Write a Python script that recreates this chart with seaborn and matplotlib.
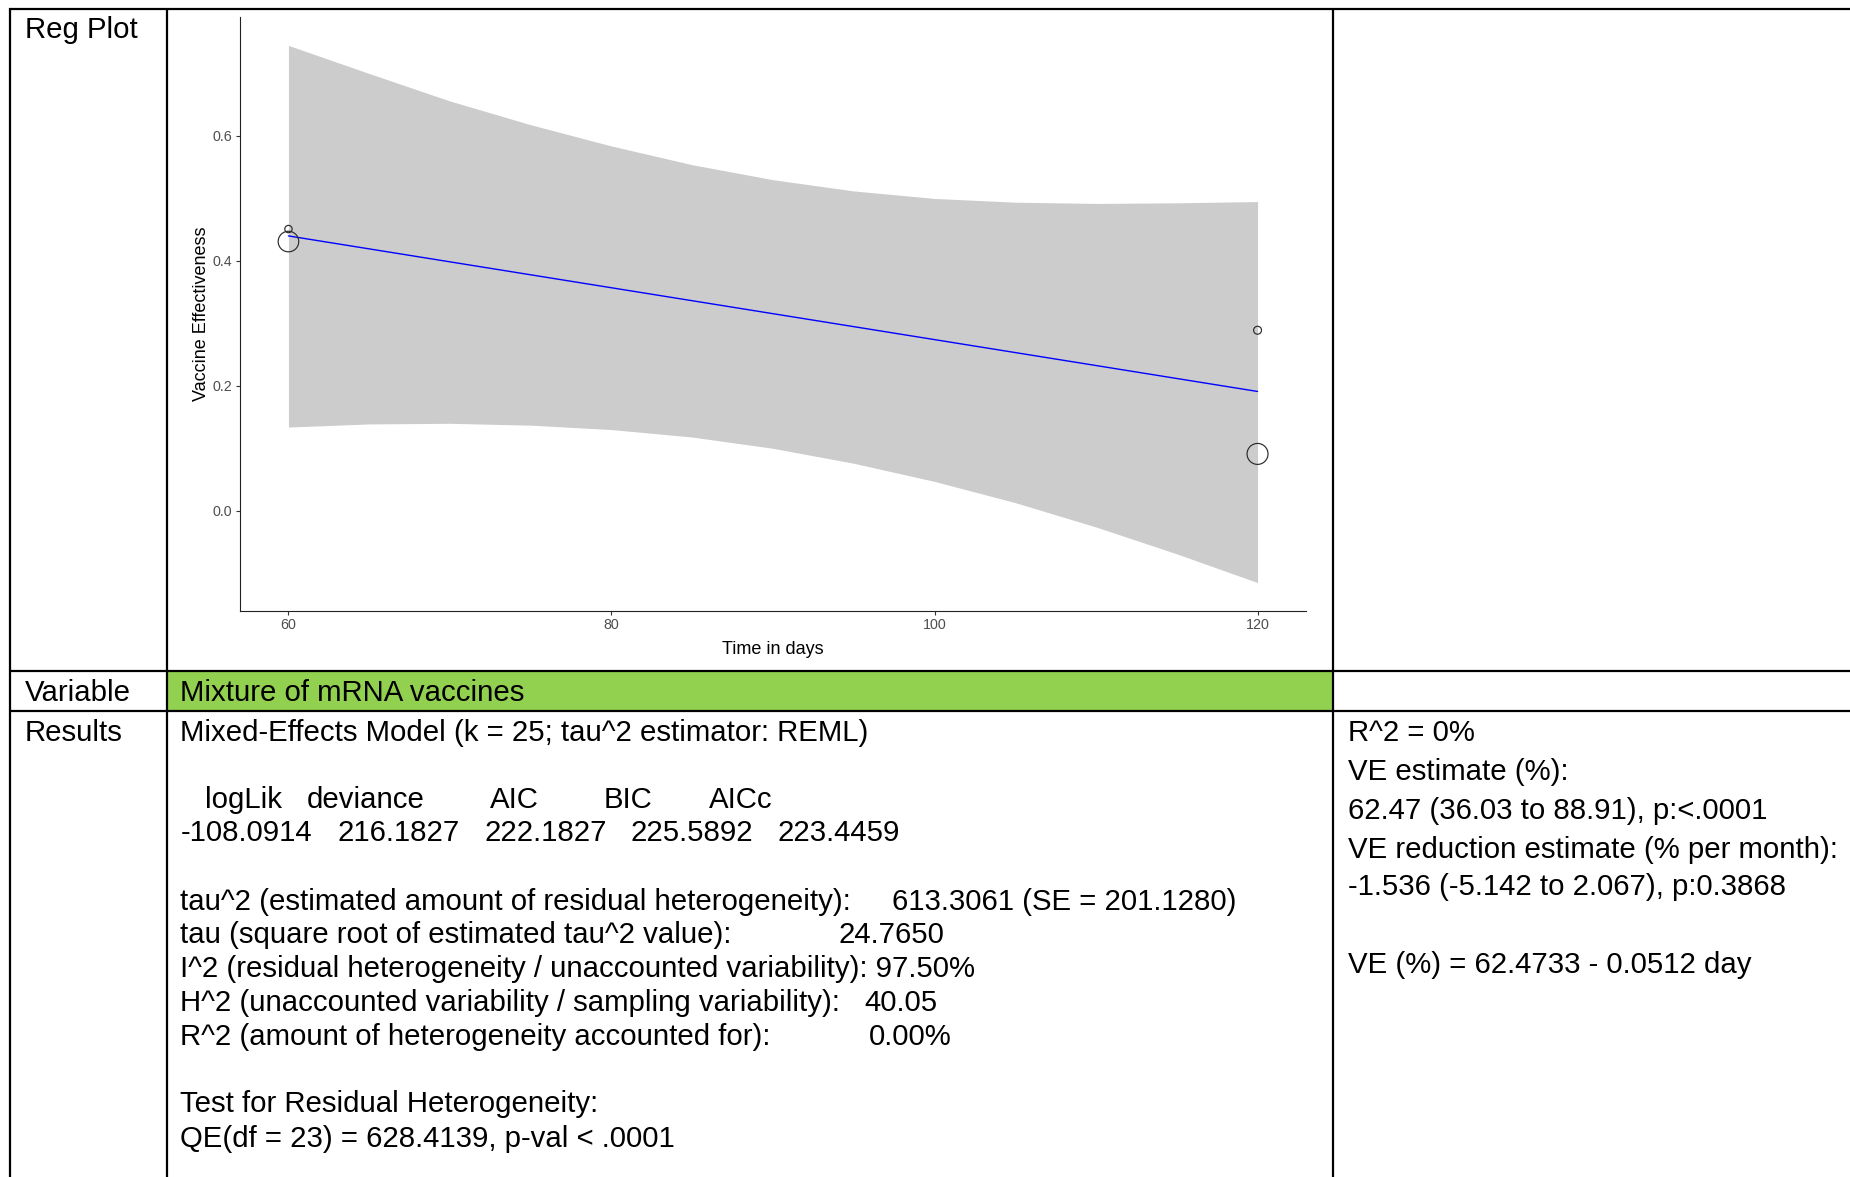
import matplotlib
matplotlib.use("Agg")
import matplotlib.pyplot as plt
import matplotlib.patches as mpatches
import pandas as pd
import seaborn as sns

# ---- regression plot data ----
band_days = [60, 65, 70, 75, 80, 85, 90, 95, 100, 105, 110, 115, 120]
band_upper = [0.745, 0.700, 0.656, 0.618, 0.584, 0.554, 0.530, 0.512, 0.500, 0.494, 0.492, 0.493, 0.495]
band_lower = [0.134, 0.139, 0.140, 0.137, 0.130, 0.118, 0.100, 0.076, 0.047, 0.013, -0.026, -0.069, -0.115]

fit_days = [60, 120]
fit_ve = [0.440, 0.191]

point_days = [60, 60, 120, 120]
point_ve = [0.451, 0.431, 0.289, 0.091]
point_weight = [0.5, 4.8, 0.6, 5.0]

x_ticks = [60, 80, 100, 120]
y_ticks = [0.0, 0.2, 0.4, 0.6]

# ---- table text ----
row_labels = ["Reg Plot", "Variable", "Results"]
variable_name = "Mixture of mRNA vaccines"
model_title = "Mixed-Effects Model (k = 25; tau^2 estimator: REML)"
fit_stat_names = ["logLik", "deviance", "AIC", "BIC", "AICc"]
fit_stat_values = ["-108.0914", "216.1827", "222.1827", "225.5892", "223.4459"]
het_labels = [
    "tau^2 (estimated amount of residual heterogeneity):",
    "tau (square root of estimated tau^2 value):",
    "I^2 (residual heterogeneity / unaccounted variability): 97.50%",
    "H^2 (unaccounted variability / sampling variability):",
    "R^2 (amount of heterogeneity accounted for):",
]
het_values = ["613.3061 (SE = 201.1280)", "24.7650", "", "40.05", "0.00%"]
test_lines = ["Test for Residual Heterogeneity:", "QE(df = 23) = 628.4139, p-val < .0001"]
summary_lines = [
    "R^2 = 0%",
    "VE estimate (%):",
    "62.47 (36.03 to 88.91), p:<.0001",
    "VE reduction estimate (% per month):",
    "-1.536 (-5.142 to 2.067), p:0.3868",
    "VE (%) = 62.4733 - 0.0512 day",
]

sns.set_style("white")
plt.rcParams["font.family"] = ["Liberation Sans", "DejaVu Sans"]

W, H = 1850, 1177
fig = plt.figure(figsize=(W / 100, H / 100), dpi=100)
fig.patch.set_facecolor("white")

# overlay axes in pixel coordinates for the table
tab = fig.add_axes([0, 0, 1, 1])
tab.set_xlim(0, W)
tab.set_ylim(H, 0)
tab.axis("off")

tab.add_patch(mpatches.Rectangle((168, 672), 1164, 38, color="#92D050", lw=0, zorder=0))
lw = 1.6
for y in [9, 671, 711]:
    tab.plot([9, W], [y, y], color="black", lw=lw, solid_capstyle="butt")
for x in [10, 167, 1333]:
    tab.plot([x, x], [8, H], color="black", lw=lw, solid_capstyle="butt")

fs = 21.15
txt = dict(fontsize=fs, color="black", va="baseline", ha="left")
tab.text(25, 37.5, row_labels[0], **txt)
tab.text(25, 700.7, row_labels[1], **txt)
tab.text(25, 740.8, row_labels[2], **txt)
tab.text(180.5, 700.7, variable_name, **txt)

tab.text(180.5, 740.8, model_title, **txt)
for name, x in zip(fit_stat_names, [205, 307, 490, 604, 709]):
    tab.text(x, 808, name, **txt)
for val, x in zip(fit_stat_values, [180.5, 337.5, 484, 631, 777.5]):
    tab.text(x, 841, val, **txt)

het_y = [909.6, 942.6, 976.8, 1011, 1045.2]
het_x = [892, 838, 0, 864, 868.5]
for lab, val, y, x in zip(het_labels, het_values, het_y, het_x):
    tab.text(180.5, y, lab, **txt)
    if val:
        tab.text(x, y, val, **txt)
tab.text(180.5, 1112.5, test_lines[0], **txt)
tab.text(180.5, 1146.7, test_lines[1], **txt)

for line, y in zip(summary_lines, [740.8, 779.7, 818.7, 857.6, 895.4, 973.3]):
    tab.text(1347.5, y, line, **txt)

# ---- regression plot ----
left, right, top, bottom = 240, 1306, 17.3, 610.7
ax = fig.add_axes([left / W, 1 - bottom / H, (right - left) / W, (bottom - top) / H])
ax.set_facecolor("none")

ax.fill_between(band_days, band_lower, band_upper, color="#CCCCCC", lw=0, zorder=1)

fit_df = pd.DataFrame({"day": fit_days, "ve": fit_ve})
sns.lineplot(data=fit_df, x="day", y="ve", color="#0000FF", lw=1.0, ax=ax, zorder=2)

pts = pd.DataFrame({"day": point_days, "ve": point_ve, "w": point_weight})
sns.scatterplot(data=pts, x="day", y="ve", size="w", sizes=(28, 228), legend=False,
                facecolor="none", edgecolor="#2a2a2a", linewidth=0.85, ax=ax, zorder=3)

ax.set_xlim(57, 123)
ax.set_ylim(-0.160, 0.790)
ax.set_xticks(x_ticks)
ax.set_yticks(y_ticks)
ax.set_yticklabels([f"{v:.1f}" for v in y_ticks])
ax.tick_params(axis="both", which="major", length=3.1, width=0.8, color="#333333",
               labelsize=10.3, labelcolor="#4D4D4D", pad=2.5, direction="out",
               bottom=True, left=True)
for s in ["top", "right"]:
    ax.spines[s].set_visible(False)
for s in ["left", "bottom"]:
    ax.spines[s].set_color("#222222")
    ax.spines[s].set_linewidth(0.8)

ax.set_xlabel("Time in days", fontsize=13, color="black")
ax.set_ylabel("Vaccine Effectiveness", fontsize=13, color="black")
ax.xaxis.set_label_coords(0.5, -(641 - bottom) / (bottom - top))
ax.yaxis.set_label_coords(-(240 - 209.5) / (right - left), 0.5)

fig.savefig("out.png", dpi=100)
